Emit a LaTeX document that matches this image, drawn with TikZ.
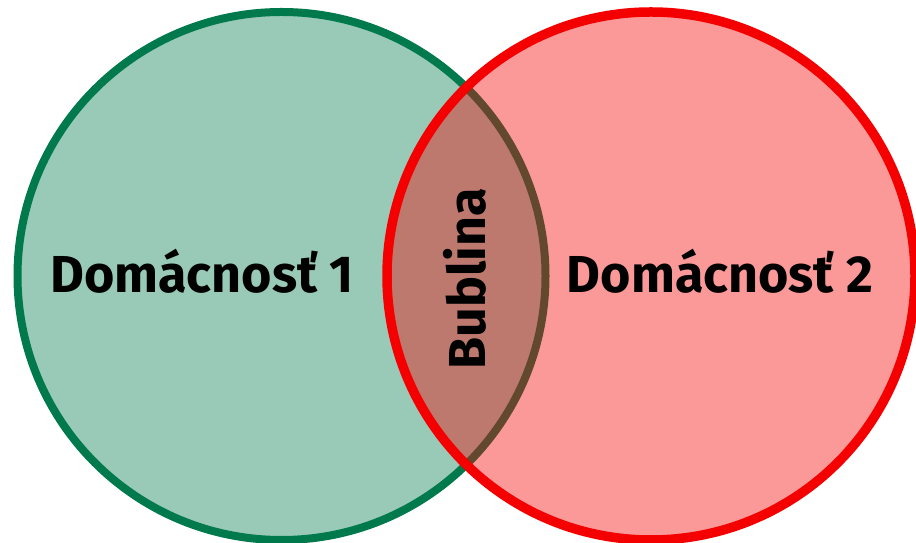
\documentclass[tikz,border=0pt]{standalone}
\usepackage{fontspec}
\setmainfont{Fira Sans}
\definecolor{hhgreen}{RGB}{0,122,77}
\definecolor{hhred}{RGB}{245,0,0}
\tikzset{
  home/.style={circle, inner sep=0pt, minimum size=528pt, line width=8pt},
  label/.style={font=\fontsize{52}{60}\selectfont\bfseries, inner sep=0pt}
}
\begin{document}
\begin{tikzpicture}[x=1pt, y=1pt]
      \useasboundingbox (0,0) rectangle (916,543);
      % first household
      \node[home, draw=hhgreen, fill=hhgreen, fill opacity=0.4] at (281.5, 267) (H1) {};
      % second household
      \node[home, line width=9.5pt, draw=hhred, fill=hhred, fill opacity=0.4] at (651, 267) (H2) {};
      % labels
      \node[label, anchor=base] at (202, 250) (L1) {Domácnosť 1};
      \node[label, anchor=base] at (720, 250) (L2) {Domácnosť 2};
      \node[label, anchor=base, rotate=90] at (485, 264) (B) {Bublina};
    \end{tikzpicture}
\end{document}
